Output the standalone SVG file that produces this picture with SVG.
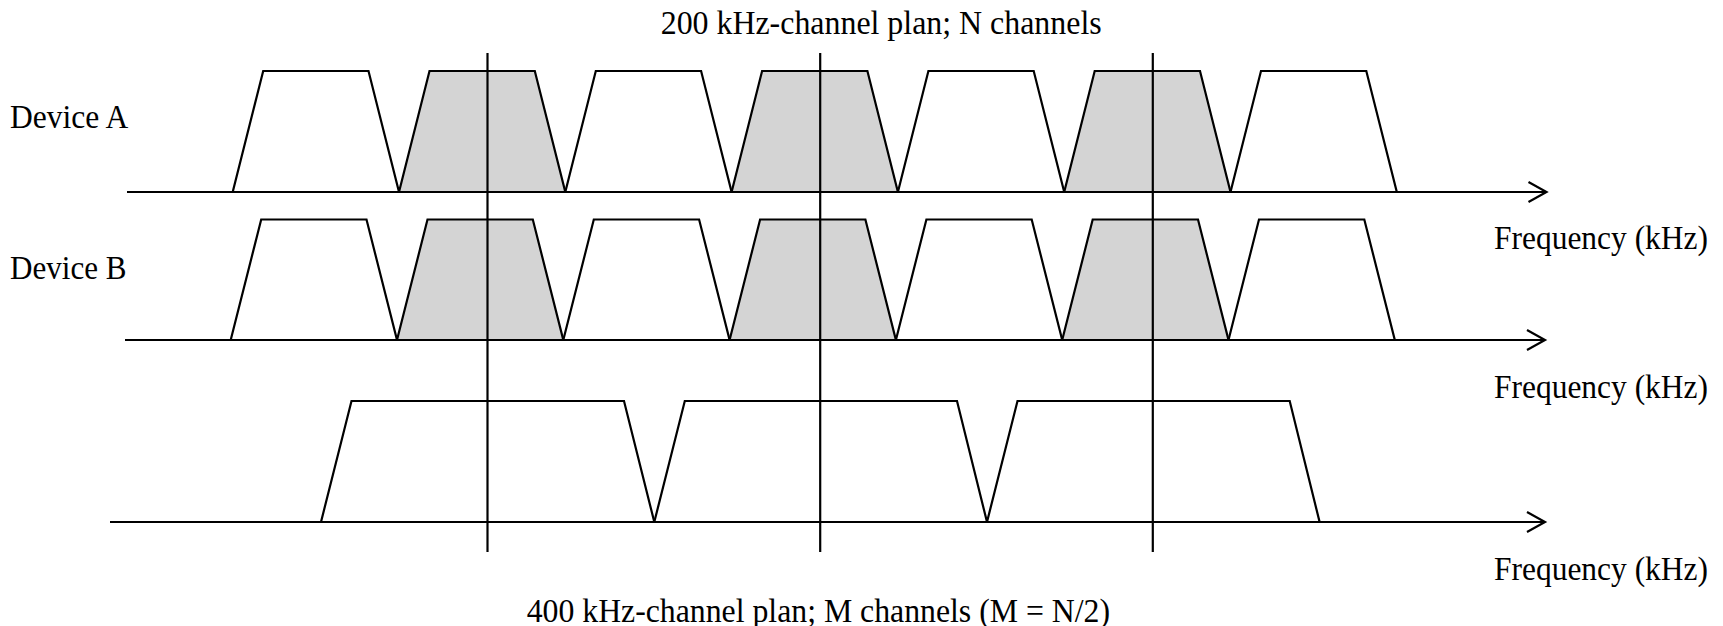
<svg xmlns="http://www.w3.org/2000/svg" width="1723" height="626" viewBox="0 0 1723 626">
<style>
  .t { font-family: "Liberation Serif", "Times New Roman", serif; font-size: 33px; fill: #000; }
  .w { fill: #ffffff; stroke: #000; stroke-width: 2.2; stroke-linejoin: miter; }
  .g { fill: #d4d4d4; stroke: #000; stroke-width: 2.2; stroke-linejoin: miter; }
  .ax { fill: none; stroke: #000; stroke-width: 2.2; }
  .vl { fill: none; stroke: #000; stroke-width: 2.2; }
</style>
<rect width="1723" height="626" fill="#ffffff"/>

<text class="t" x="660.7" y="34" textLength="441" lengthAdjust="spacingAndGlyphs">200 kHz-channel plan; N channels</text>

<g id="deviceA">
  <text class="t" x="10" y="127.5" textLength="118.3" lengthAdjust="spacingAndGlyphs">Device A</text>
  <polygon class="w" points="232.7,192 263.2,71 368.5,71 399,192"/>
  <polygon class="g" points="399,192 429.5,71 534.8,71 565.3,192"/>
  <polygon class="w" points="565.3,192 595.8,71 701.1,71 731.6,192"/>
  <polygon class="g" points="731.6,192 762.1,71 867.4,71 897.9,192"/>
  <polygon class="w" points="897.9,192 928.4,71 1033.7,71 1064.2,192"/>
  <polygon class="g" points="1064.2,192 1094.7,71 1200,71 1230.5,192"/>
  <polygon class="w" points="1230.5,192 1261,71 1366.3,71 1396.8,192"/>
  <path class="ax" d="M127,192 H1546"/>
  <path class="ax" d="M1528.5,182 L1546.5,192 L1528.5,202"/>
  <text class="t" x="1494" y="249" textLength="214" lengthAdjust="spacingAndGlyphs">Frequency (kHz)</text>
</g>

<g id="deviceB">
  <text class="t" x="10" y="279" textLength="116.6" lengthAdjust="spacingAndGlyphs">Device B</text>
  <polygon class="w" points="230.7,340 261.2,219.5 366.5,219.5 397,340"/>
  <polygon class="g" points="397,340 427.5,219.5 532.8,219.5 563.3,340"/>
  <polygon class="w" points="563.3,340 593.8,219.5 699.1,219.5 729.6,340"/>
  <polygon class="g" points="729.6,340 760.1,219.5 865.4,219.5 895.9,340"/>
  <polygon class="w" points="895.9,340 926.4,219.5 1031.7,219.5 1062.2,340"/>
  <polygon class="g" points="1062.2,340 1092.7,219.5 1198,219.5 1228.5,340"/>
  <polygon class="w" points="1228.5,340 1259,219.5 1364.3,219.5 1394.8,340"/>
  <path class="ax" d="M125,340 H1544.5"/>
  <path class="ax" d="M1527,330 L1545,340 L1527,350"/>
  <text class="t" x="1494" y="397.5" textLength="214" lengthAdjust="spacingAndGlyphs">Frequency (kHz)</text>
</g>

<g id="plan400">
  <polygon class="w" points="321,522 351.5,401 624,401 654.3,522"/>
  <polygon class="w" points="654.3,522 684.8,401 957,401 987,522"/>
  <polygon class="w" points="987,522 1017.5,401 1289.7,401 1319.6,522"/>
  <path class="ax" d="M110,522 H1544.5"/>
  <path class="ax" d="M1527,512 L1545,522 L1527,532"/>
  <text class="t" x="1494" y="580" textLength="214" lengthAdjust="spacingAndGlyphs">Frequency (kHz)</text>
</g>

<g id="connectors">
  <path class="vl" d="M487.5,53 V552"/>
  <path class="vl" d="M820.2,53 V552"/>
  <path class="vl" d="M1152.8,53 V552"/>
</g>

<text class="t" x="526.7" y="622" textLength="583.3" lengthAdjust="spacingAndGlyphs">400 kHz-channel plan; M channels (M = N/2)</text>
</svg>
